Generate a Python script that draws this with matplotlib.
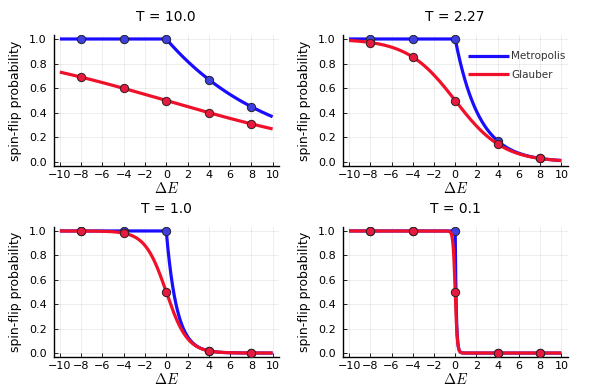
import numpy as np
import matplotlib
matplotlib.use("Agg")
import matplotlib.pyplot as plt

plt.rcParams['font.family'] = ['DejaVu Sans']
plt.rcParams['mathtext.fontset'] = 'cm'

temperatures = [10.0, 2.27, 1.0, 0.1]
titles = ["T = 10.0", "T = 2.27", "T = 1.0", "T = 0.1"]
dE_points = [-8, -4, 0, 4, 8]
metro_points = [
    [1.0, 1.0, 1.0, 0.67, 0.45],
    [1.0, 1.0, 1.0, 0.17, 0.03],
    [1.0, 1.0, 1.0, 0.02, 0.0],
    [1.0, 1.0, 1.0, 0.0, 0.0],
]
glauber_points = [
    [0.69, 0.60, 0.50, 0.40, 0.31],
    [0.97, 0.85, 0.50, 0.15, 0.03],
    [1.0, 0.98, 0.50, 0.02, 0.0],
    [1.0, 1.0, 0.50, 0.0, 0.0],
]
xticks = [-10, -8, -6, -4, -2, 0, 2, 4, 6, 8, 10]
yticks = [0.0, 0.2, 0.4, 0.6, 0.8, 1.0]

blue = '#1a0dff'
red = '#f0102a'
blue_m = '#3f3fe0'
red_m = '#e8193f'

fig = plt.figure(figsize=(6.0, 3.88), dpi=100)
W, H = 600.0, 388.0
boxes = [
    (53.5, 35.3, 279.0, 165.7),
    (342.7, 35.3, 567.7, 165.7),
    (53.5, 227.3, 279.0, 356.7),
    (342.7, 227.3, 567.7, 356.7),
]

dE = np.linspace(-10, 10, 2001)
for i, T in enumerate(temperatures):
    x0, y0, x1, y1 = boxes[i]
    ax = fig.add_axes([x0 / W, 1 - y1 / H, (x1 - x0) / W, (y1 - y0) / H])
    metro = np.minimum(1.0, np.exp(-dE / T))
    glauber = 1.0 / (1.0 + np.exp(dE / T))
    ax.plot(dE, metro, color=blue, lw=2.3, label='Metropolis', zorder=3, solid_capstyle='butt')
    ax.plot(dE_points, metro_points[i], 'o', color=blue_m, mec='#202030', mew=0.7, ms=6, zorder=4)
    ax.plot(dE, glauber, color=red, lw=2.3, label='Glauber', zorder=5, solid_capstyle='butt')
    ax.plot(dE_points, glauber_points[i], 'o', color=red_m, mec='#302020', mew=0.7, ms=6, zorder=6)
    ax.set_xlim(-10.6, 10.6)
    ax.set_ylim(-0.03, 1.03)
    ax.set_xticks(xticks)
    ax.set_xticklabels([str(t).replace('-', '\u2212') for t in xticks])
    ax.set_yticks(yticks)
    ax.set_yticklabels([f"{t:.1f}" for t in yticks])
    ax.tick_params(axis='x', direction='in', length=3, width=0.6, labelsize=8, pad=3, color='black')
    ax.tick_params(axis='y', direction='in', length=3, width=0.6, labelsize=8, pad=5, color='black')
    ax.grid(True, color='#000000', alpha=0.08, lw=0.6)
    for s in ['top', 'right']:
        ax.spines[s].set_visible(False)
    for s in ['left', 'bottom']:
        ax.spines[s].set_linewidth(1.0)
    ax.set_title(titles[i], fontsize=10, pad=10)
    ax.set_xlabel(r'$\Delta E$', fontsize=10.5, labelpad=1)
    ax.set_ylabel('spin-flip probability', fontsize=9, labelpad=5)
    if i == 1:
        ax.legend(loc='upper right', bbox_to_anchor=(1.01, 0.91), frameon=False,
                  fontsize=7.5, handlelength=3.9, handletextpad=0.25, labelspacing=0.8,
                  borderaxespad=0.0, labelcolor='#333333')

fig.savefig('out.png', dpi=100)
